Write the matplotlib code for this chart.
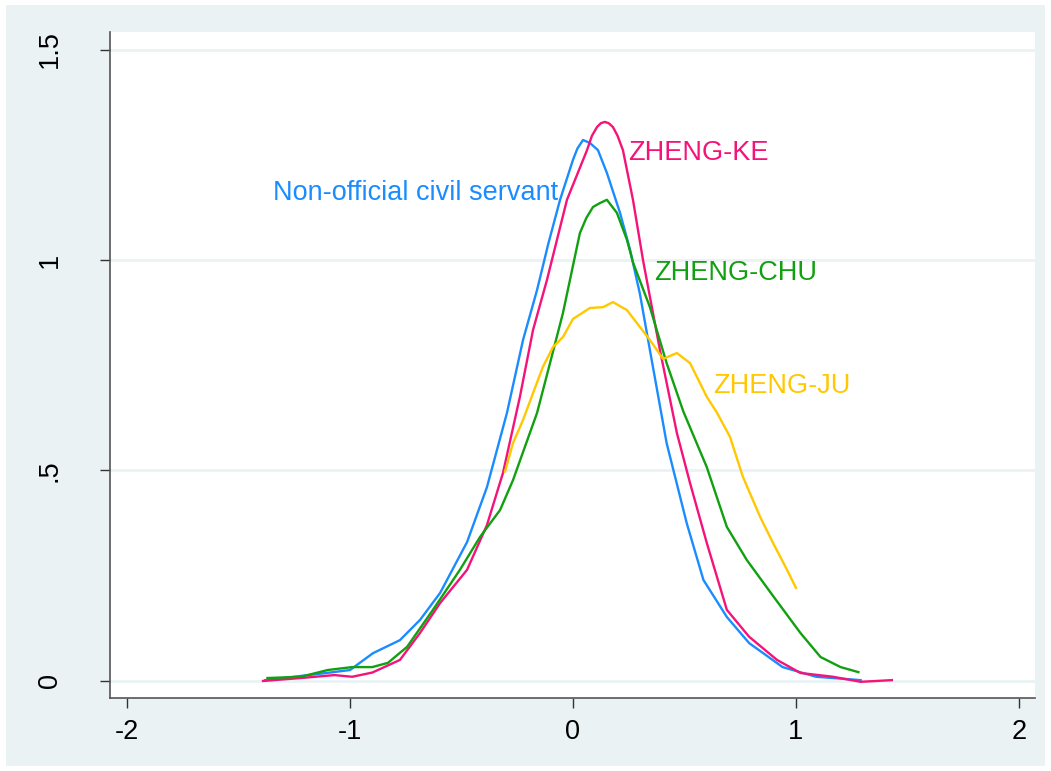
import numpy as np
import matplotlib
matplotlib.use("Agg")
import matplotlib.pyplot as plt
from matplotlib.patches import Rectangle

plt.rcParams['font.family'] = ['Liberation Sans', 'DejaVu Sans']

# kernel density curves
civil_x = [-1.38, -1.09, -1.0, -0.897, -0.776, -0.686, -0.596, -0.475, -0.386, -0.296, -0.224, -0.161,
           -0.11, -0.058, 0.0, 0.02, 0.045, 0.076, 0.112, 0.152, 0.211, 0.256, 0.30, 0.345, 0.42, 0.51,
           0.585, 0.69, 0.79, 0.94, 1.09, 1.29]
civil_y = [0.002, 0.02, 0.026, 0.066, 0.097, 0.145, 0.209, 0.33, 0.46, 0.637, 0.81, 0.929,
           1.04, 1.143, 1.238, 1.265, 1.285, 1.278, 1.261, 1.207, 1.112, 1.024, 0.92, 0.786, 0.565, 0.375,
           0.24, 0.152, 0.09, 0.033, 0.01, 0.002]

ke_x = [-1.39, -1.22, -1.07, -0.99, -0.90, -0.776, -0.686, -0.596, -0.475, -0.386, -0.314, -0.238,
        -0.179, -0.117, -0.027, 0.063, 0.085, 0.108, 0.125, 0.143, 0.16, 0.179, 0.20, 0.224, 0.269,
        0.314, 0.39, 0.466, 0.525, 0.60, 0.69, 0.79, 0.915, 1.02, 1.166, 1.29, 1.43]
ke_y = [0.0, 0.007, 0.014, 0.01, 0.02, 0.05, 0.114, 0.185, 0.264, 0.37, 0.494, 0.675,
        0.834, 0.952, 1.143, 1.261, 1.295, 1.316, 1.325, 1.328, 1.325, 1.316, 1.295, 1.261, 1.143,
        1.0, 0.786, 0.589, 0.47, 0.328, 0.169, 0.105, 0.05, 0.019, 0.01, -0.002, 0.002]

chu_x = [-1.37, -1.22, -1.10, -0.99, -0.90, -0.83, -0.744, -0.628, -0.507, -0.417, -0.327, -0.269,
         -0.161, -0.103, -0.045, 0.031, 0.06, 0.09, 0.12, 0.152, 0.197, 0.242, 0.27, 0.345, 0.42,
         0.495, 0.60, 0.69, 0.78, 0.90, 1.02, 1.11, 1.20, 1.28]
chu_y = [0.007, 0.01, 0.026, 0.033, 0.033, 0.043, 0.081, 0.169, 0.264, 0.342, 0.406, 0.477,
         0.637, 0.755, 0.874, 1.064, 1.10, 1.126, 1.135, 1.143, 1.112, 1.048, 0.993, 0.888, 0.755,
         0.64, 0.508, 0.366, 0.287, 0.20, 0.114, 0.057, 0.033, 0.021]

ju_x = [-0.305, -0.269, -0.224, -0.179, -0.135, -0.09, -0.045, 0.0, 0.076, 0.135, 0.179, 0.242,
        0.30, 0.345, 0.404, 0.466, 0.525, 0.60, 0.646, 0.704, 0.762, 0.839, 0.897, 0.96, 1.0]
ju_y = [0.497, 0.565, 0.62, 0.684, 0.746, 0.793, 0.817, 0.86, 0.886, 0.888, 0.900, 0.881,
        0.841, 0.81, 0.765, 0.779, 0.755, 0.675, 0.637, 0.58, 0.485, 0.39, 0.328, 0.264, 0.221]

labels = ["Non-official civil servant", "ZHENG-KE", "ZHENG-CHU", "ZHENG-JU"]
label_pos = [(-1.345, 1.16), (0.247, 1.254), (0.363, 0.969), (0.628, 0.70)]
colors = ['#1a8cff', '#f5137a', '#10a010', '#ffc800']

xticks = [-2, -1, 0, 1, 2]
xticklabels = ['-2', '-1', '0', '1', '2']
yticks = [0, 0.5, 1, 1.5]
yticklabels = ['0', '.5', '1', '1.5']

bg = '#eaf2f3'

fig = plt.figure(figsize=(10.51, 7.71), dpi=100, facecolor='white')
fig.patches.append(Rectangle((6 / 1051, 5 / 771), 1039 / 1051, 761 / 771,
                             transform=fig.transFigure, facecolor=bg, edgecolor='none', zorder=-10))
ax = fig.add_axes([0.1047, 0.0947, 0.8801, 0.8638])
ax.set_facecolor('white')

for xs, ys, c in zip([civil_x, ke_x, chu_x, ju_x], [civil_y, ke_y, chu_y, ju_y], colors):
    ax.plot(xs, ys, color=c, lw=1.7, zorder=3, solid_joinstyle='round')

for lab, (lx, ly), c in zip(labels, label_pos, colors):
    ax.text(lx, ly, lab, color=c, fontsize=19.5, ha='left', va='center', zorder=4)

ax.set_xlim(-2.076, 2.072)
ax.set_ylim(-0.0404, 1.5416)
ax.set_xticks(xticks)
ax.set_xticklabels(xticklabels)
ax.set_yticks(yticks)
ax.set_yticklabels(yticklabels, rotation=90, va='center')
ax.tick_params(axis='both', direction='out', length=7, width=1, color='#333333', labelsize=19.5)
ax.tick_params(axis='x', pad=8)
ax.tick_params(axis='y', pad=27)
ax.grid(axis='y', color=bg, lw=2, zorder=1)
ax.set_axisbelow(True)

for s in ['top', 'right']:
    ax.spines[s].set_visible(False)
for s in ['left', 'bottom']:
    ax.spines[s].set_color('#555555')
    ax.spines[s].set_linewidth(1.2)

fig.savefig('out.png', dpi=100, facecolor='white')
